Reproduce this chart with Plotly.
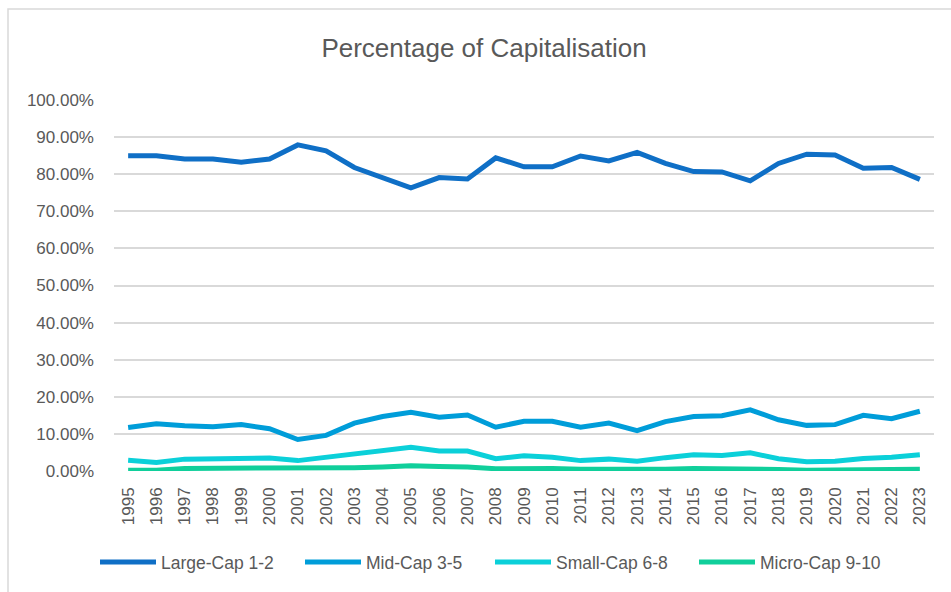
import plotly.graph_objects as go

years = [str(y) for y in range(1995, 2024)]

large_cap = [85.0, 85.0, 84.1, 84.1, 83.2, 84.1, 87.9, 86.3, 81.8, 79.0, 76.3, 79.1, 78.7, 84.4, 82.0,
             82.0, 84.9, 83.6, 85.9, 82.9, 80.7, 80.6, 78.2, 82.9, 85.4, 85.2, 81.6, 81.8, 78.6]
mid_cap = [11.7, 12.7, 12.2, 11.9, 12.5, 11.4, 8.5, 9.6, 12.9, 14.7, 15.8, 14.5, 15.1, 11.8, 13.4,
           13.4, 11.8, 12.9, 10.9, 13.3, 14.7, 14.9, 16.5, 13.8, 12.3, 12.5, 15.0, 14.1, 16.1]
small_cap = [2.9, 2.3, 3.2, 3.4, 3.6, 3.5, 2.8, 3.7, 4.6, 5.6, 6.4, 5.4, 5.4, 3.3, 4.1,
             3.7, 2.8, 3.2, 2.6, 3.6, 4.4, 4.2, 4.9, 3.3, 2.5, 2.6, 3.4, 3.7, 4.4]
micro_cap = [0.2, 0.2, 0.7, 0.7, 0.7, 0.7, 0.6, 0.8, 0.9, 1.1, 1.4, 1.2, 1.1, 0.6, 0.7,
             0.7, 0.5, 0.5, 0.3, 0.5, 0.7, 0.7, 0.7, 0.4, 0.2, 0.3, 0.4, 0.5, 0.5]

series_names = ["Large-Cap 1-2", "Mid-Cap 3-5", "Small-Cap 6-8", "Micro-Cap 9-10"]
series_values = [large_cap, mid_cap, small_cap, micro_cap]
colors = ["#0F6FC6", "#009DD9", "#0BD0D9", "#10CF9B"]

y_ticks = [i * 10 for i in range(11)]
y_tick_labels = [f"{v:.2f}%" for v in y_ticks]

FONT = "Liberation Sans, Arial, sans-serif"
GRAY = "#595959"

W, H = 951, 592
L, R, T, B = 114, 17, 100, 121
pw = W - L - R
ph = H - T - B

legend_ids = ["legend", "legend2", "legend3", "legend4"]
legend_x_px = [95, 300, 490, 694]

fig = go.Figure()
for name, vals, c, lid in zip(series_names, series_values, colors, legend_ids):
    fig.add_trace(go.Scatter(
        x=years, y=vals, name=name, mode="lines",
        line=dict(color=c, width=5), legend=lid,
    ))

legend_layout = {}
for lid, xp in zip(legend_ids, legend_x_px):
    legend_layout[lid] = dict(
        orientation="h", x=xp / W, xanchor="left", xref="container",
        y=1 - 562 / H, yanchor="middle", yref="container",
        font=dict(size=17.5, color=GRAY, family=FONT), itemwidth=56,
        bgcolor="rgba(0,0,0,0)", borderwidth=0,
    )

fig.update_layout(
    width=W, height=H,
    margin=dict(l=L, r=R, t=T, b=B, autoexpand=False),
    paper_bgcolor="white", plot_bgcolor="white",
    font=dict(family=FONT, color=GRAY, size=17),
    title=dict(text="Percentage of Capitalisation", x=484 / W, xanchor="center",
               y=1 - 48 / H, yanchor="middle", font=dict(size=26, color=GRAY, family=FONT)),
    showlegend=True,
    xaxis=dict(type="category", range=[-0.5, 28.5], tickangle=-90, showgrid=False,
               showline=False, zeroline=False, ticks="", ticklabelstandoff=12,
               automargin=False, tickfont=dict(size=17, color=GRAY)),
    yaxis=dict(range=[0, 100], tickvals=y_ticks, ticktext=y_tick_labels,
               showgrid=True, gridcolor="#D9D9D9", gridwidth=1.5, zeroline=False,
               showline=False, ticks="", ticklabelstandoff=19, automargin=False,
               tickfont=dict(size=17, color=GRAY)),
    shapes=[dict(type="rect", xref="paper", yref="paper",
                 x0=(8 - L) / pw, x1=(W + 20 - L) / pw,
                 y0=(H - B - (H + 20)) / ph, y1=(H - B - 9) / ph,
                 line=dict(color="#D9D9D9", width=1.5), fillcolor="rgba(0,0,0,0)", layer="below")],
    **legend_layout,
)

fig.write_html("out.html", config={"displayModeBar": False},
               post_script="document.body.style.margin='0';")
